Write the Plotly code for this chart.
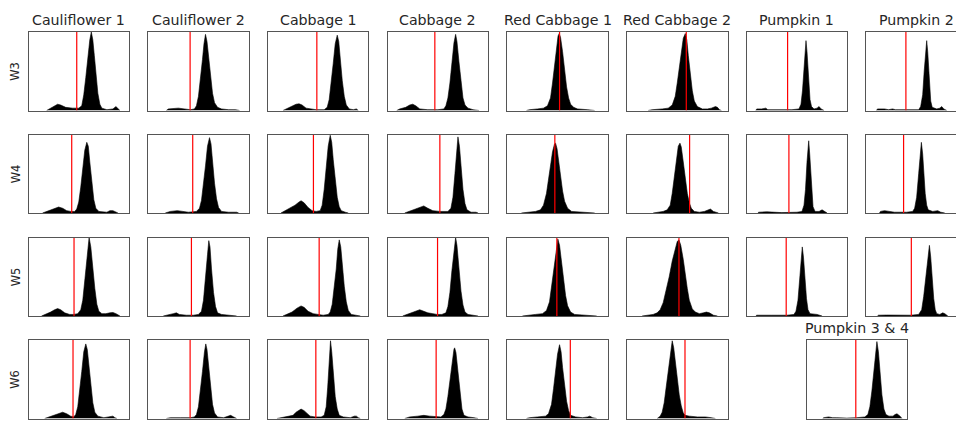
import plotly.graph_objects as go

# ---------------- data (x in panel units 0-100, y relative density 0-1) ----------------
col_titles = ["Cauliflower 1", "Cauliflower 2", "Cabbage 1", "Cabbage 2",
              "Red Cabbage 1", "Red Cabbage 2", "Pumpkin 1", "Pumpkin 2"]
row_labels = ["W3", "W4", "W5", "W6"]
last_title = "Pumpkin 3 & 4"

w3_cauliflower1 = [(18,0),(22,0.03),(26,0.06),(29,0.08),(32,0.07),(37,0.04),(44,0.03),(50,0.03),(53,0.06),(55,0.2),(57,0.42),(59,0.68),(61,0.9),(62.5,1.0),(64,0.9),(65.5,0.7),(67,0.45),(69,0.22),(71,0.08),(73,0.03),(78,0.01),(84,0.02),(87,0.05),(89,0.02),(91,0)]
w3_cauliflower2 = [(18,0),(20,0.02),(30,0.03),(35,0.02),(42,0.01),(46,0.02),(48,0.06),(50,0.18),(52,0.38),(54,0.65),(55.5,0.85),(57,0.97),(58.5,0.88),(60,0.68),(62,0.42),(64,0.22),(66,0.1),(69,0.04),(73,0.02),(80,0.01),(87,0.01),(91,0)]
w3_cabbage1 = [(15,0),(18,0.02),(23,0.05),(28,0.08),(31,0.085),(34,0.07),(38,0.03),(44,0.02),(48,0.01),(56,0.01),(59,0.04),(61,0.14),(63,0.35),(65,0.6),(67,0.85),(69,0.96),(70.5,0.88),(72,0.65),(74,0.38),(76,0.18),(78,0.07),(81,0.02),(85,0.01),(88,0.02),(90,0)]
w3_cabbage2 = [(9,0),(12,0.02),(18,0.04),(22,0.07),(25,0.08),(28,0.06),(32,0.02),(40,0.01),(50,0.01),(56,0.02),(58,0.06),(60,0.16),(62,0.35),(64,0.6),(66,0.86),(67.7,0.97),(69,0.88),(71,0.62),(73,0.35),(75,0.16),(77,0.07),(80,0.03),(85,0.01),(91,0)]
w3_redcabbage1 = [(19,0),(22,0.01),(30,0.02),(36,0.03),(40,0.06),(43,0.16),(45,0.35),(47,0.6),(49,0.82),(50.5,0.95),(51.7,0.98),(53,0.93),(55,0.75),(57,0.52),(59,0.3),(61,0.16),(63,0.08),(66,0.04),(70,0.02),(80,0.01),(87,0)]
w3_redcabbage2 = [(21,0),(25,0.01),(35,0.02),(41,0.03),(45,0.07),(48,0.18),(50,0.35),(52,0.55),(54,0.75),(56,0.92),(58,0.98),(59.5,0.9),(61,0.7),(63,0.45),(65,0.25),(67,0.12),(70,0.05),(75,0.02),(80,0.02),(84,0.03),(88,0.05),(90,0.04),(92,0.01),(94,0)]
w3_pumpkin1 = [(9,0),(10,0.02),(15,0.02),(19,0.03),(21,0.01),(30,0.01),(45,0.01),(52,0.02),(54,0.08),(55.5,0.25),(57,0.55),(58,0.78),(59,0.89),(60,0.75),(61,0.5),(62,0.3),(63,0.14),(64.5,0.05),(67,0.02),(70,0.03),(72,0.05),(74,0.02),(77,0)]
w3_pumpkin2 = [(10,0),(11,0.02),(18,0.02),(22,0.01),(26,0.02),(29,0.01),(40,0.01),(52,0.01),(54,0.05),(56,0.2),(57.5,0.5),(59,0.8),(60,0.89),(61,0.75),(62,0.5),(63,0.28),(64,0.12),(65.5,0.04),(70,0.02),(73,0.03),(75,0.05),(77,0.02),(80,0)]

w4_cauliflower1 = [(14,0),(18,0.02),(24,0.05),(30,0.076),(34,0.06),(38,0.03),(42,0.02),(46,0.02),(48,0.05),(50,0.14),(52,0.33),(54,0.58),(56,0.8),(58,0.9),(59.5,0.85),(61,0.65),(63,0.38),(65,0.17),(67,0.06),(70,0.02),(78,0.01),(81,0.03),(84,0.03),(87,0.01),(89,0)]
w4_cauliflower2 = [(17,0),(22,0.02),(29,0.03),(34,0.02),(40,0.01),(48,0.02),(51,0.06),(53,0.16),(55,0.35),(57,0.6),(59,0.85),(61,0.96),(62.5,0.88),(64,0.65),(66,0.38),(68,0.18),(70,0.07),(73,0.02),(80,0.01),(88,0.01),(90,0)]
w4_cabbage1 = [(13,0),(17,0.03),(22,0.06),(27,0.1),(31,0.14),(33,0.156),(36,0.13),(40,0.07),(44,0.03),(48,0.02),(52,0.03),(54,0.1),(56,0.3),(58,0.55),(60,0.85),(62,0.99),(63.5,0.9),(65,0.68),(67,0.4),(69,0.2),(71,0.08),(73,0.03),(77,0.01),(80,0)]
w4_cabbage2 = [(17,0),(21,0.02),(27,0.05),(32,0.08),(36,0.09),(40,0.06),(45,0.03),(52,0.02),(60,0.02),(63,0.06),(65,0.2),(67,0.5),(68.5,0.8),(70,0.97),(71.5,0.85),(73,0.6),(75,0.3),(77,0.12),(79,0.04),(83,0.01),(88,0.01),(90,0)]
w4_redcabbage1 = [(14,0),(20,0.01),(28,0.02),(33,0.04),(36,0.1),(39,0.25),(41,0.42),(43,0.6),(45,0.78),(47,0.88),(48,0.89),(49.5,0.82),(51,0.65),(53,0.45),(55,0.28),(57,0.15),(60,0.06),(64,0.02),(75,0.01),(84,0.01),(87,0)]
w4_redcabbage2 = [(26,0),(30,0.01),(36,0.02),(40,0.04),(43,0.1),(45,0.25),(47,0.45),(49,0.67),(51,0.85),(52.7,0.89),(54,0.84),(56,0.65),(58,0.42),(60,0.25),(62,0.13),(64,0.06),(67,0.02),(72,0.01),(77,0.02),(80,0.04),(83,0.05),(86,0.02),(91,0)]
w4_pumpkin1 = [(11,0),(12,0.01),(20,0.015),(28,0.01),(35,0.005),(50,0.01),(55,0.02),(57,0.1),(58.5,0.3),(60,0.65),(61.7,0.92),(62.7,0.75),(64,0.45),(65,0.22),(66,0.08),(68,0.02),(72,0.02),(75,0.04),(78,0.02),(80,0)]
w4_pumpkin2 = [(13,0),(14,0.02),(18,0.03),(22,0.02),(28,0.01),(40,0.01),(46,0.02),(48,0.06),(50,0.2),(52,0.5),(53.5,0.78),(54.7,0.9),(56,0.75),(57,0.5),(58.5,0.25),(60,0.1),(61.5,0.04),(66,0.02),(69,0.03),(71,0.03),(74,0.01),(78,0)]

w5_cauliflower1 = [(13,0),(17,0.02),(22,0.05),(26,0.08),(29,0.094),(32,0.08),(36,0.04),(41,0.02),(45,0.02),(49,0.03),(52,0.08),(54,0.2),(56,0.45),(58,0.75),(60.3,1.0),(62,0.88),(64,0.6),(66,0.35),(68,0.15),(70,0.06),(73,0.03),(77,0.03),(81,0.04),(84,0.045),(87,0.03),(91,0)]
w5_cauliflower2 = [(15,0),(20,0.02),(25,0.03),(28,0.04),(31,0.02),(38,0.01),(45,0.01),(50,0.02),(53,0.06),(55,0.2),(57,0.45),(59,0.78),(60.3,0.96),(61.5,0.88),(63,0.6),(65,0.3),(67,0.12),(69,0.04),(73,0.02),(80,0.01),(88,0)]
w5_cabbage1 = [(15,0),(19,0.02),(24,0.05),(29,0.1),(33,0.128),(36,0.11),(40,0.06),(45,0.03),(50,0.02),(55,0.01),(60,0.02),(62,0.05),(64,0.15),(66,0.35),(68,0.6),(69.5,0.85),(71,0.97),(72.5,0.88),(74,0.65),(76,0.38),(78,0.18),(80,0.07),(83,0.02),(92,0)]
w5_cabbage2 = [(15,0),(19,0.02),(24,0.04),(28,0.07),(32,0.08),(36,0.06),(40,0.04),(45,0.03),(49,0.02),(54,0.02),(58,0.04),(60,0.12),(62,0.3),(64,0.58),(66,0.85),(67.7,1.0),(69,0.9),(71,0.6),(73,0.32),(75,0.14),(77,0.05),(80,0.02),(85,0.01),(90,0)]
w5_redcabbage1 = [(15,0),(20,0.01),(28,0.02),(35,0.03),(39,0.07),(42,0.18),(44,0.38),(46,0.6),(48,0.82),(50.3,0.98),(52,0.9),(54,0.68),(56,0.45),(58,0.26),(60,0.13),(63,0.05),(67,0.02),(78,0.01),(89,0)]
w5_redcabbage2 = [(15,0),(20,0.01),(26,0.02),(30,0.04),(33,0.08),(36,0.17),(39,0.32),(42,0.5),(45,0.7),(48,0.87),(50,0.95),(51.7,0.97),(53.5,0.9),(56,0.72),(58,0.52),(60,0.35),(62,0.2),(65,0.09),(68,0.05),(72,0.03),(76,0.04),(79,0.05),(82,0.04),(86,0.01),(90,0)]
w5_pumpkin1 = [(9,0),(10,0.01),(25,0.01),(40,0.01),(47,0.02),(49,0.06),(51,0.2),(52.5,0.45),(54,0.72),(55.3,0.88),(56.5,0.75),(58,0.45),(59.5,0.22),(61,0.08),(63,0.03),(70,0.02),(75,0)]
w5_pumpkin2 = [(11,0),(12,0.01),(20,0.012),(29,0.01),(35,0.005),(44,0.01),(52,0.02),(55,0.08),(57,0.25),(59,0.5),(61,0.78),(62.7,0.9),(64,0.75),(65.5,0.48),(67,0.22),(68.5,0.08),(70,0.03),(73,0.02),(76,0.04),(78,0.03),(81,0)]

w6_cauliflower1 = [(16,0),(20,0.02),(25,0.04),(30,0.07),(34,0.08),(38,0.06),(42,0.03),(45,0.02),(47,0.05),(49,0.15),(51,0.35),(53,0.6),(55,0.85),(57,0.95),(58.5,0.88),(60,0.68),(62,0.42),(64,0.2),(66,0.08),(69,0.03),(75,0.01),(82,0.02),(84,0.03),(86,0.01),(88,0)]
w6_cauliflower2 = [(18,0),(22,0.01),(32,0.01),(42,0.01),(46,0.02),(48,0.05),(50,0.15),(52,0.35),(54,0.6),(56,0.85),(57.3,0.95),(58.5,0.88),(60,0.68),(62,0.4),(64,0.18),(66,0.07),(69,0.02),(75,0.01),(79,0.03),(82,0.04),(85,0.02),(88,0)]
w6_cabbage1 = [(9,0),(13,0.01),(20,0.02),(25,0.04),(28,0.08),(31,0.11),(33,0.12),(36,0.1),(39,0.06),(42,0.03),(47,0.02),(53,0.02),(56,0.04),(58,0.15),(59.5,0.4),(61,0.75),(62.3,0.99),(63.5,0.85),(65,0.55),(67,0.28),(69,0.12),(71,0.04),(75,0.02),(82,0.01),(86,0.03),(88,0.03),(90,0.01),(92,0)]
w6_cabbage2 = [(17,0),(22,0.02),(30,0.03),(36,0.04),(42,0.03),(48,0.02),(53,0.02),(56,0.05),(58,0.12),(60,0.28),(62,0.5),(64,0.72),(66,0.88),(66.7,0.9),(68,0.84),(70,0.6),(72,0.32),(74,0.12),(76,0.04),(80,0.02),(86,0.01),(90,0)]
w6_redcabbage1 = [(19,0),(22,0.01),(30,0.02),(38,0.03),(41,0.06),(44,0.18),(46,0.38),(48,0.6),(50,0.82),(52,0.94),(53.5,0.85),(55,0.65),(57,0.42),(59,0.22),(61,0.1),(63,0.04),(68,0.02),(75,0.01),(80,0.02),(82,0.03),(85,0.01),(89,0)]
w6_redcabbage2 = [(30,0),(33,0.03),(35,0.08),(37,0.2),(39,0.4),(41,0.62),(43,0.85),(45,0.99),(46.5,0.9),(48,0.72),(50,0.5),(52,0.3),(54,0.16),(56,0.07),(58,0.04),(62,0.03),(70,0.02),(78,0.02),(84,0.01),(88,0)]
w6_pumpkin34 = [(16,0),(17,0.01),(22,0.02),(26,0.01),(30,0.01),(40,0.005),(50,0.01),(58,0.02),(61,0.05),(63,0.15),(65,0.35),(67,0.62),(68.5,0.85),(70,0.98),(71.5,0.85),(73,0.6),(75,0.3),(77,0.12),(79,0.05),(82,0.03),(86,0.03),(88,0.05),(90,0.06),(93,0.03),(95,0)]

threshold_w3 = [48, 41.7, 48.7, 47, 52, 59, 40.7, 39.3]
threshold_w4 = [43, 44.3, 45.3, 52, 47.3, 62.3, 42, 37]
threshold_w5 = [45.3, 43, 51, 49.7, 49.3, 51.7, 39.3, 44.7]
threshold_w6 = [44.3, 41.7, 47.7, 48.3, 62.7, 57.7, 49]

rows = [
    [w3_cauliflower1, w3_cauliflower2, w3_cabbage1, w3_cabbage2, w3_redcabbage1, w3_redcabbage2, w3_pumpkin1, w3_pumpkin2],
    [w4_cauliflower1, w4_cauliflower2, w4_cabbage1, w4_cabbage2, w4_redcabbage1, w4_redcabbage2, w4_pumpkin1, w4_pumpkin2],
    [w5_cauliflower1, w5_cauliflower2, w5_cabbage1, w5_cabbage2, w5_redcabbage1, w5_redcabbage2, w5_pumpkin1, w5_pumpkin2],
    [w6_cauliflower1, w6_cauliflower2, w6_cabbage1, w6_cabbage2, w6_redcabbage1, w6_redcabbage2, w6_pumpkin34],
]
thresholds = [threshold_w3, threshold_w4, threshold_w5, threshold_w6]

# ---------------- layout geometry (page pixels) ----------------
W, H = 956, 421
COL_LEFT0, COL_STEP, PANEL_W = 28.5, 119.7, 100.5
ROW_TOPS = [32, 134.5, 237.5, 340]
PANEL_H = 78.5
FONT = "DejaVu Sans"
FRAME = "#555555"
TXT = "#262626"


def px(x):
    return x / W


def py(y):
    return 1 - y / H


fig = go.Figure()
layout = dict(width=W, height=H, margin=dict(l=0, r=0, t=0, b=0),
              paper_bgcolor="white", plot_bgcolor="white", showlegend=False)
annotations = []

k = 0
for r, row in enumerate(rows):
    top = ROW_TOPS[r]
    for c, pts in enumerate(row):
        k += 1
        if r == 3 and c == 6:
            left = COL_LEFT0 + COL_STEP * 6.5
        else:
            left = COL_LEFT0 + COL_STEP * c
        right = min(left + PANEL_W, W)
        clipped = right < left + PANEL_W
        xr = 100 * (right - left) / PANEL_W
        sx = "" if k == 1 else str(k)
        layout["xaxis" + sx] = dict(domain=[px(left), px(right)], range=[0, xr],
                                    anchor="y" + sx,
                                    showline=True, linecolor=FRAME, linewidth=1, mirror=True,
                                    showticklabels=False, ticks="", showgrid=False, zeroline=False,
                                    fixedrange=True)
        layout["yaxis" + sx] = dict(domain=[py(top + PANEL_H), py(top)], range=[0, 1.0],
                                    anchor="x" + sx,
                                    showline=True, linecolor=FRAME, linewidth=1,
                                    mirror=(not clipped),
                                    showticklabels=False, ticks="", showgrid=False, zeroline=False,
                                    fixedrange=True)
        xs = [p[0] for p in pts]
        ys = [p[1] for p in pts]
        fig.add_trace(go.Scatter(x=xs, y=ys, mode="lines", fill="tozeroy",
                                 fillcolor="black", line=dict(color="black", width=0.6),
                                 xaxis="x" + sx, yaxis="y" + sx, hoverinfo="skip"))
        t = thresholds[r][c]
        fig.add_trace(go.Scatter(x=[t, t], y=[0, 1.0], mode="lines",
                                 line=dict(color="#ff0000", width=1.2),
                                 xaxis="x" + sx, yaxis="y" + sx, hoverinfo="skip"))
        if r == 0:
            annotations.append(dict(text=col_titles[c], x=px(left + PANEL_W / 2), y=py(19.5),
                                    xref="paper", yref="paper", xanchor="center", yanchor="middle",
                                    showarrow=False, font=dict(family=FONT, size=14.2, color=TXT)))
        if r == 3 and c == 6:
            annotations.append(dict(text=last_title, x=px(left + PANEL_W / 2), y=py(327.5),
                                    xref="paper", yref="paper", xanchor="center", yanchor="middle",
                                    showarrow=False, font=dict(family=FONT, size=14.2, color=TXT)))
    annotations.append(dict(text=row_labels[r], x=px(15.5), y=py(top + PANEL_H / 2),
                            xref="paper", yref="paper", xanchor="center", yanchor="middle",
                            textangle=-90, showarrow=False,
                            font=dict(family=FONT, size=11.5, color=TXT)))

layout["annotations"] = annotations
fig.update_layout(**layout)
# remove the browser's default 8px page margin so the figure sits exactly in the window
fig.write_html("out.html", config={"displayModeBar": False, "staticPlot": True},
               post_script="document.body.style.margin='0';document.body.style.overflow='hidden';")
